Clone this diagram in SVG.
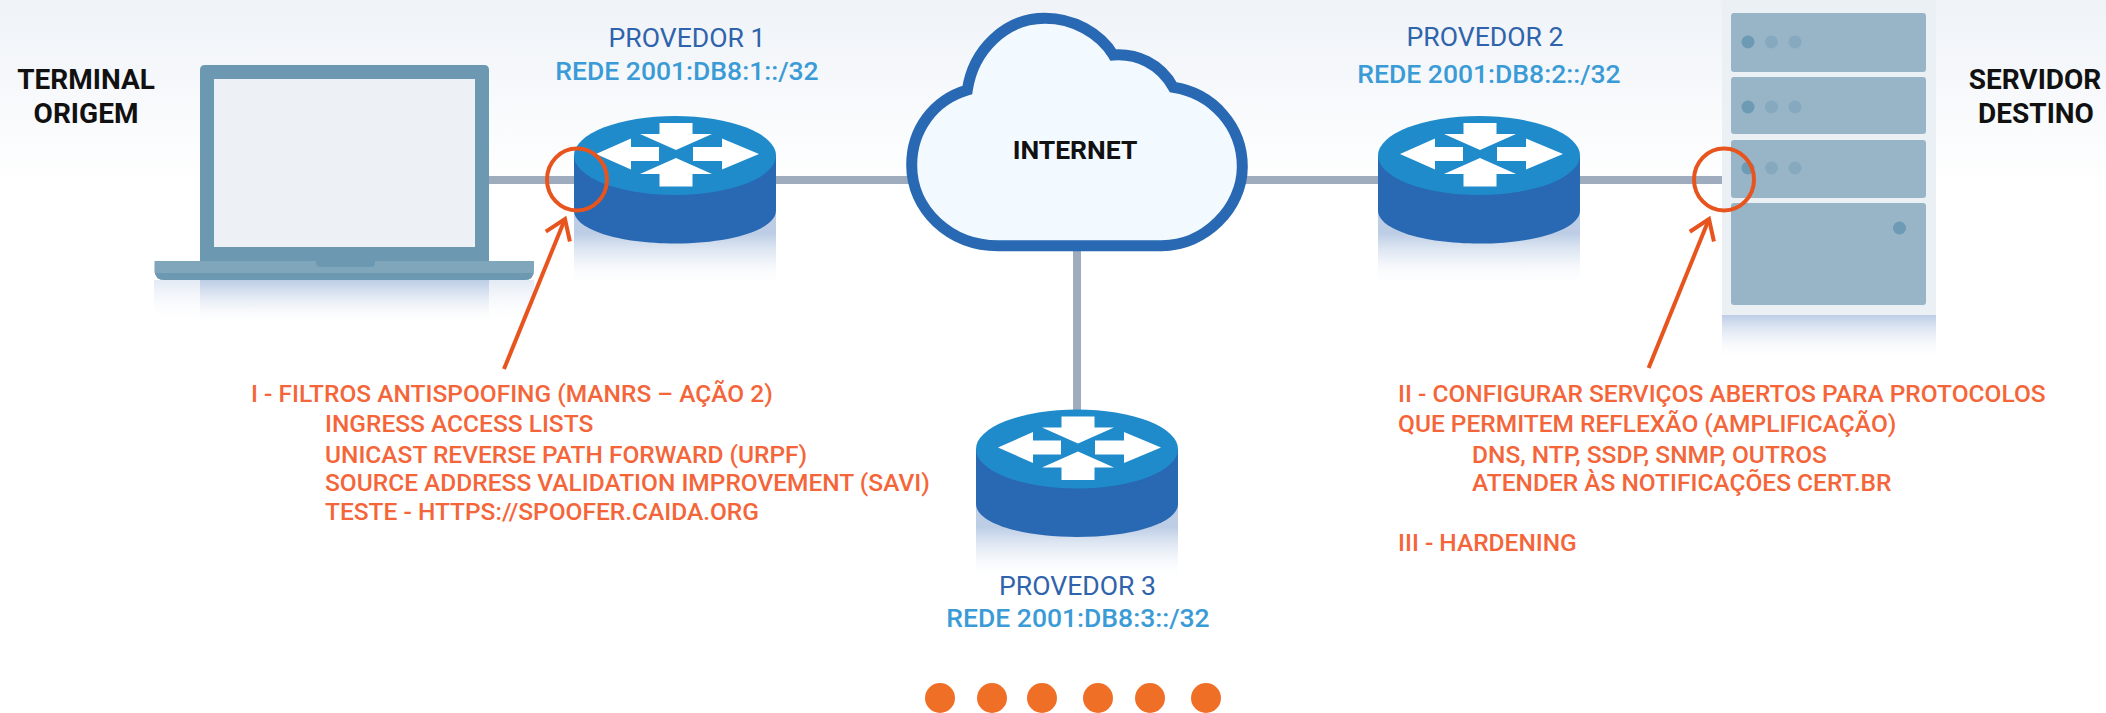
<svg xmlns="http://www.w3.org/2000/svg" width="2106" height="713" viewBox="0 0 2106 713">
<style>
text{font-family:Roboto,"Liberation Sans",sans-serif}
.h{font-size:28px;font-weight:700;fill:#111;text-anchor:middle}
.i{font-size:26.500px;font-weight:700;fill:#111;text-anchor:middle}
.p{font-size:26.600px;font-weight:400;fill:#2f63ab;text-anchor:middle}
.r{font-size:26.500px;font-weight:500;fill:#3a9bd6;text-anchor:middle}
.o{font-size:24.500px;font-weight:500;fill:#f4663a}
.link{stroke:#9facbe;stroke-width:8;fill:none}
.note{stroke:#e8541e;stroke-width:4;fill:none}
.unit{fill:#97b5c6}
.d1{fill:#6d9ab5}
.d2{fill:#86a9bf}
.dot{fill:#ef6f27}
</style>
<defs>
<linearGradient id="bg" x1="0" y1="0" x2="0" y2="1"><stop offset="0" stop-color="#eff3f8"/><stop offset="1" stop-color="#fff"/></linearGradient>
<linearGradient id="refl" x1="0" y1="0" x2="0" y2="1"><stop offset="0" stop-color="#bccde5"/><stop offset="1" stop-color="#fff" stop-opacity="0"/></linearGradient>
<linearGradient id="reflr" x1="0" y1="0" x2="0" y2="1"><stop offset="0.350" stop-color="#bccde5"/><stop offset="1" stop-color="#fff" stop-opacity="0"/></linearGradient>
<linearGradient id="refl2" x1="0" y1="0" x2="0" y2="1"><stop offset="0" stop-color="#e3eaf4"/><stop offset="1" stop-color="#fff" stop-opacity="0"/></linearGradient>
<marker id="chev" markerUnits="userSpaceOnUse" markerWidth="44" markerHeight="44" refX="22" refY="22" orient="auto" overflow="visible"><path d="M3 9L22 22L3 35" fill="none" stroke="#e8541e" stroke-width="4"/></marker>
<g id="router">
<rect x="-101" y="49" width="202" height="83" fill="url(#reflr)"/>
<path d="M-101 0V55C-101 74 -56 88 0 88S101 74 101 55V0Z" fill="#2968b3"/>
<ellipse cx="0" cy="0" rx="101" ry="39.500" fill="#208bcb"/>
<path fill="#fff" transform="translate(0 -1.500)" d="M-79 0L-44-15.500V-7H-16V7H-44V15.500ZM84 0L47-15.500V-7H18V7H47V15.500ZM-15.500-31H17.500V-20H37L1-4L-35-20H-15.500ZM-15.500 32.500H17.500V20H37L1 4L-35 20H-15.500Z"/>
</g>
</defs>
<rect id="background" x="0" y="0" width="2106" height="190" fill="url(#bg)"/>
<g id="connectors">
<path class="link" d="M488 180H1722"/>
<path class="link" d="M1077 240V420"/>
</g>
<g id="terminal">
<rect x="154" y="280" width="380" height="44" fill="url(#refl2)"/>
<rect x="200" y="280" width="289" height="44" fill="url(#refl)"/>
<path d="M200 261V70Q200 65 205 65H484Q489 65 489 70V261Z" fill="#6c98b1"/>
<rect x="214" y="79" width="261" height="168" fill="#edf1f6"/>
<path d="M154.500 261H534V270Q534 280 524 280H165Q154.500 280 154.500 270Z" fill="#7fa6bb"/>
<path d="M154.500 270V273H534V270Q534 280 524 280H165Q154.500 280 154.500 270Z" fill="#6c98b1"/>
<path d="M316 261H375V263Q375 267 370 267H321Q316 267 316 263Z" fill="#6c98b1"/>
<text class="h" x="86" y="89">TERMINAL</text>
<text class="h" x="86" y="123">ORIGEM</text>
</g>
<g id="provedor1">
<use href="#router" x="675" y="155.500"/>
<text class="p" x="687" y="47">PROVEDOR 1</text>
<text class="r" x="687" y="80">REDE 2001:DB8:1::/32</text>
</g>
<g id="internet">
<path d="M998 245.700H1161.700C1205 245.700 1242.300 208 1242.300 166.700C1242.300 126.700 1213 93.300 1173.300 87.300C1160 63.300 1136.700 53.300 1113.300 55C1100 33 1073.300 18.300 1045 18.300C1005 18.300 973.300 50 967.300 90C933.300 100 911.700 130 911.700 165C911.700 210 950 245.700 998 245.700Z" fill="#f3faff" stroke="#2968b3" stroke-width="11"/>
<text class="i" x="1075" y="158.500">INTERNET</text>
</g>
<g id="provedor2">
<use href="#router" x="1479" y="155.500"/>
<text class="p" x="1485" y="46">PROVEDOR 2</text>
<text class="r" x="1489" y="83">REDE 2001:DB8:2::/32</text>
</g>
<g id="servidor">
<rect x="1722" y="0" width="214" height="315" fill="#eaf0f4"/>
<rect x="1722" y="315" width="214" height="45" fill="url(#refl)"/>
<rect class="unit" x="1731" y="13" width="195" height="59" rx="3"/>
<rect class="unit" x="1731" y="77" width="195" height="57" rx="3"/>
<rect class="unit" x="1731" y="140" width="195" height="58" rx="3"/>
<rect class="unit" x="1731" y="203" width="195" height="102" rx="3"/>
<circle class="d1" cx="1748" cy="42" r="6.500"/><circle class="d2" cx="1771.500" cy="42" r="6.500"/><circle class="d2" cx="1795" cy="42" r="6.500"/>
<circle class="d1" cx="1748" cy="107" r="6.500"/><circle class="d2" cx="1771.500" cy="107" r="6.500"/><circle class="d2" cx="1795" cy="107" r="6.500"/>
<circle class="d1" cx="1748" cy="168" r="6.500"/><circle class="d2" cx="1771.500" cy="168" r="6.500"/><circle class="d2" cx="1795" cy="168" r="6.500"/>
<circle class="d1" cx="1899.500" cy="228" r="6.500"/>
<text class="h" x="2035" y="89">SERVIDOR</text>
<text class="h" x="2036" y="123">DESTINO</text>
</g>
<g id="provedor3">
<use href="#router" x="1077" y="449"/>
<text class="p" x="1077.500" y="595">PROVEDOR 3</text>
<text class="r" x="1078" y="627">REDE 2001:DB8:3::/32</text>
</g>
<g id="annotations">
<ellipse class="note" cx="577" cy="179.500" rx="30" ry="31"/>
<ellipse class="note" cx="1724" cy="179.500" rx="30" ry="31"/>
<path class="note" d="M504 369L565 219" marker-end="url(#chev)"/>
<path class="note" d="M1648.600 368L1709 219" marker-end="url(#chev)"/>
</g>
<g id="nota-esquerda">
<text class="o" x="251" y="402">I - FILTROS ANTISPOOFING (MANRS – AÇÃO 2)</text>
<text class="o" x="325" y="432">INGRESS ACCESS LISTS</text>
<text class="o" x="325" y="463">UNICAST REVERSE PATH FORWARD (URPF)</text>
<text class="o" x="325" y="491">SOURCE ADDRESS VALIDATION IMPROVEMENT (SAVI)</text>
<text class="o" x="325" y="520">TESTE - HTTPS://SPOOFER.CAIDA.ORG</text>
</g>
<g id="nota-direita">
<text class="o" x="1398" y="402">II - CONFIGURAR SERVIÇOS ABERTOS PARA PROTOCOLOS</text>
<text class="o" x="1398" y="432">QUE PERMITEM REFLEXÃO (AMPLIFICAÇÃO)</text>
<text class="o" x="1472" y="463">DNS, NTP, SSDP, SNMP, OUTROS</text>
<text class="o" x="1472" y="491">ATENDER ÀS NOTIFICAÇÕES CERT.BR</text>
<text class="o" x="1398" y="551">III - HARDENING</text>
</g>
<g id="reticencias">
<circle class="dot" cx="940" cy="698" r="15"/>
<circle class="dot" cx="992" cy="698" r="15"/>
<circle class="dot" cx="1042" cy="698" r="15"/>
<circle class="dot" cx="1098" cy="698" r="15"/>
<circle class="dot" cx="1150" cy="698" r="15"/>
<circle class="dot" cx="1206" cy="698" r="15"/>
</g>
</svg>
